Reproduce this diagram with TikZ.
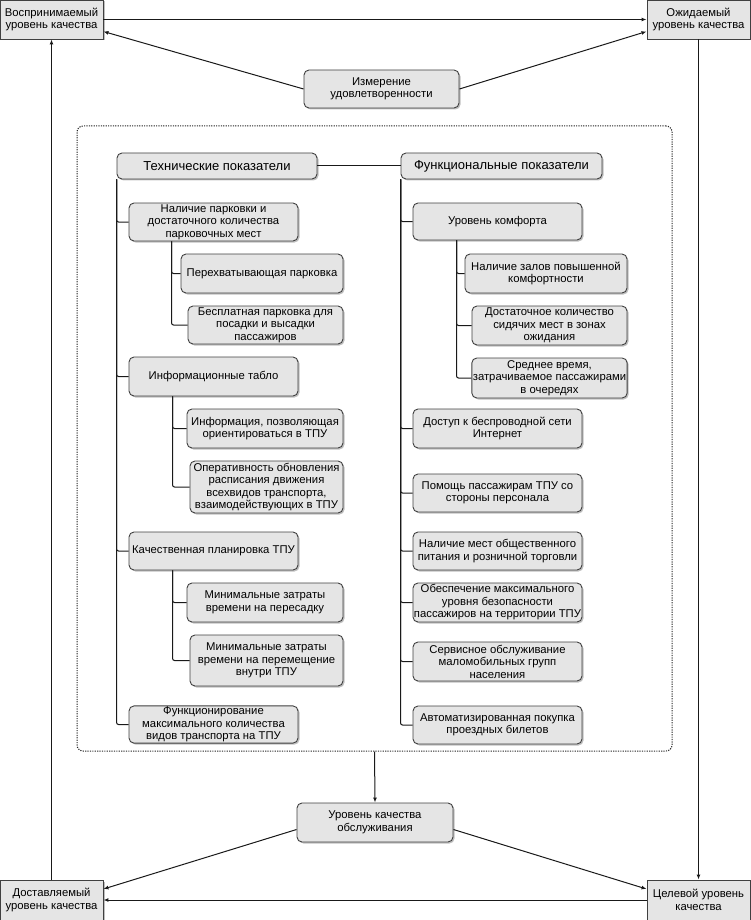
\documentclass[tikz,border=0pt]{standalone}
\usepackage{fontspec}
\setmainfont{Liberation Sans}
\usetikzlibrary{arrows.meta,shadows}

\begin{document}
\begin{tikzpicture}[
  x=1pt,y=-1pt,
  font=\fontsize{11.3}{12.5}\selectfont,
  corner/.style={rectangle,draw=black!75,fill=black!10,line width=0.9pt,
    drop shadow={shadow xshift=1.5pt,shadow yshift=-1.5pt,opacity=0.5},
    minimum width=103pt,minimum height=39pt,inner sep=1pt,align=center},
  item/.style={rectangle,rounded corners=5pt,draw=black!75,fill=black!10,line width=0.9pt,
    drop shadow={shadow xshift=1.5pt,shadow yshift=-1.5pt,opacity=0.5},
    minimum width=#1,minimum height=39pt,inner sep=1pt,align=center},
  lvone/.style={item=169pt},
  head/.style={item=200pt,minimum height=26pt,font=\fontsize{13}{14}\selectfont},
  frame/.style={draw=black!85,line width=1pt,dash pattern=on 1.2pt off 1.2pt,rounded corners=6pt,
    minimum width=595pt,minimum height=625pt},
  link/.style={draw=black!90,line width=1pt,rounded corners=2pt},
  flow/.style={draw=black!90,line width=1pt,-{Latex[length=5pt,width=4pt]}}
]
\useasboundingbox (0,0) rectangle (750,920);

%%%%%%%%%%%%%%%%%%%%%%%%%%%%%%%%%%%%%%%%%%%%%%%%%%%%
% Quality levels (corners)
%%%%%%%%%%%%%%%%%%%%%%%%%%%%%%%%%%%%%%%%%%%%%%%%%%%%
\node[corner] (C1) at (51.5,19.5) {Воспринимаемый\\уровень качества};
\node[corner] (C2) at (698.5,19.5) {Ожидаемый\\уровень качества};
\node[corner,minimum height=40pt] (C3) at (698.5,900) {Целевой уровень\\качества};
\node[corner,minimum height=40pt] (C4) at (51.5,900) {Доставляемый\\уровень качества};

\node[item=155pt,minimum height=38pt] (M) at (381.5,89) {Измерение\\удовлетворенности};
\node[item=156pt] (Q) at (375,822.5) {Уровень качества\\обслуживания};

\node[frame] (Fr) at (374.5,438.5) {};

%%%%%%%%%%%%%%%%%%%%%%%%%%%%%%%%%%%%%%%%%%%%%%%%%%%%
% Technical indicators
%%%%%%%%%%%%%%%%%%%%%%%%%%%%%%%%%%%%%%%%%%%%%%%%%%%%
\node[head] (TH) at (217,166) {Технические показатели};

\node[lvone,minimum height=38pt] (T1) at (213.5,222) {Наличие парковки и\\достаточного количества\\парковочных мест};
\node[item=162pt] (T1a) at (262,273.5) {Перехватывающая парковка};
\node[item=155pt,minimum height=38pt] (T1b) at (265.5,325) {Бесплатная парковка для\\посадки и высадки\\пассажиров};

\node[lvone] (T2) at (213.5,376.5) {Информационные табло};
\node[item=156pt] (T2a) at (265,428.5) {Информация, позволяющая\\ориентироваться в ТПУ};
\node[item=153pt,minimum height=52pt] (T2b) at (266.5,487) {Оперативность обновления\\расписания движения\\всехвидов транспорта,\\взаимодействующих в ТПУ};

\node[lvone,minimum height=38pt] (T3) at (213.5,551) {Качественная планировка ТПУ};
\node[item=156pt] (T3a) at (265,602.5) {Минимальные затраты\\времени на пересадку};
\node[item=153pt,minimum height=51pt] (T3b) at (266.5,660.5) {Минимальные затраты\\времени на перемещение\\внутри ТПУ};

\node[lvone,minimum height=37pt] (T4) at (213.5,724.5) {Функционирование\\максимального количества\\видов транспорта на ТПУ};

%%%%%%%%%%%%%%%%%%%%%%%%%%%%%%%%%%%%%%%%%%%%%%%%%%%%
% Functional indicators
%%%%%%%%%%%%%%%%%%%%%%%%%%%%%%%%%%%%%%%%%%%%%%%%%%%%
\node[head,minimum width=201pt] (FH) at (501.5,166) {Функциональные показатели};

\node[lvone,minimum height=37pt] (F1) at (497.5,221.5) {Уровень комфорта};
\node[item=162pt] (F1a) at (546,273.5) {Наличие залов повышенной\\комфортности};
\node[item=155pt] (F1b) at (549.5,325.5) {Достаточное количество\\сидячих мест в зонах\\ожидания};
\node[item=155pt,minimum height=40pt] (F1c) at (549.5,378) {Среднее время,\\затрачиваемое пассажирами\\в очередях};

\node[lvone] (F2) at (497.5,428.5) {Доступ к беспроводной сети\\Интернет};
\node[lvone,minimum height=38pt] (F3) at (497.5,493) {Помощь пассажирам ТПУ со\\стороны персонала};
\node[lvone,minimum height=38pt] (F4) at (497.5,551) {Наличие мест общественного\\питания и розничной торговли};
\node[lvone] (F5) at (497.5,602.5) {Обеспечение максимального\\уровня безопасности\\пассажиров на территории ТПУ};
\node[lvone] (F6) at (497.5,661.5) {Сервисное обслуживание\\маломобильных групп\\населения};
\node[lvone,minimum height=38pt] (F7) at (497.5,725) {Автоматизированная покупка\\проездных билетов};

%%%%%%%%%%%%%%%%%%%%%%%%%%%%%%%%%%%%%%%%%%%%%%%%%%%%
% Tree links
%%%%%%%%%%%%%%%%%%%%%%%%%%%%%%%%%%%%%%%%%%%%%%%%%%%%
\draw[link] (TH) -- (FH);
\foreach \i in {T1,T2,T3,T4}
  \draw[link] (TH.south west) |- (\i.west);
\foreach \i in {T1a,T1b}
  \draw[link] ([xshift=43pt]T1.south west) |- (\i.west);
\foreach \i in {T2a,T2b}
  \draw[link] ([xshift=44pt]T2.south west) |- (\i.west);
\foreach \i in {T3a,T3b}
  \draw[link] ([xshift=44pt]T3.south west) |- (\i.west);

\foreach \i in {F1,F2,F3,F4,F5,F6,F7}
  \draw[link] (FH.south west) |- (\i.west);
\foreach \i in {F1a,F1b,F1c}
  \draw[link] ([xshift=44pt]F1.south west) |- (\i.west);

%%%%%%%%%%%%%%%%%%%%%%%%%%%%%%%%%%%%%%%%%%%%%%%%%%%%
% Quality loop
%%%%%%%%%%%%%%%%%%%%%%%%%%%%%%%%%%%%%%%%%%%%%%%%%%%%
\draw[flow] (C1.east) -- (C2.west);
\draw[flow] (M.west) -- ([yshift=-12pt]C1.east);
\draw[flow] (M.east) -- ([yshift=-12pt]C2.west);
\draw[flow] (C2.south) -- (C3.north);
\draw[flow] (C4.north) -- (C1.south);
\draw[flow] (Fr.south) -- (Q.north);
\draw[flow] ([yshift=-7pt]Q.west) -- ([yshift=11pt]C4.east);
\draw[flow] ([yshift=-7pt]Q.east) -- ([yshift=11pt]C3.west);
\draw[flow] (C3.west) -- (C4.east);

\end{tikzpicture}
\end{document}
